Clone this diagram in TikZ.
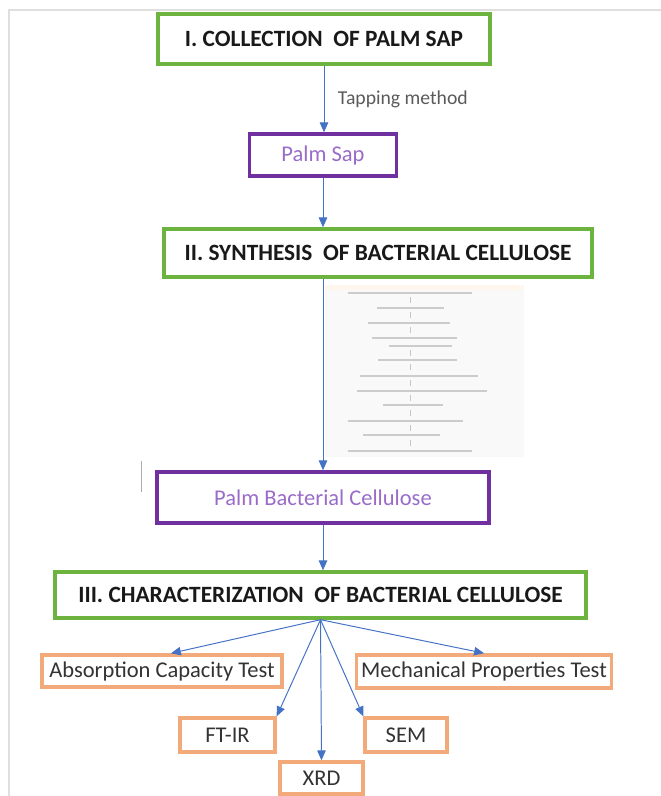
\documentclass[tikz,border=0pt]{standalone}
\usepackage{fontspec}
\setmainfont{Carlito}
\usepackage{xcolor}
\usepackage{tikz}
\usetikzlibrary{arrows.meta, positioning, calc}

\definecolor{stagegreen}{HTML}{6DB33F}
\definecolor{boxpurple}{HTML}{7030A0}
\definecolor{textpurple}{HTML}{9A6CC9}
\definecolor{testorange}{HTML}{F2AA7A}
\definecolor{flowblue}{HTML}{4472C4}
\definecolor{labelgray}{HTML}{5A5A5A}

\begin{document}
\begin{tikzpicture}[
    x=0.025cm, y=-0.025cm,
    stage/.style={rectangle, draw=stagegreen, line width=2.4pt, fill=white, align=center, text=black!90, font=\fontsize{16.6}{20}\selectfont\bfseries},
    product/.style={rectangle, draw=boxpurple, line width=2.4pt, fill=white, align=center, text=textpurple, font=\fontsize{16}{19}\selectfont},
    test/.style={rectangle, draw=testorange, line width=2.4pt, fill=white, align=center, text=black!80, font=\fontsize{16}{19}\selectfont},
    arrow/.style={-{Triangle[length=7pt, width=6pt]}, flowblue, line width=0.7pt},
    lbl/.style={text=labelgray, font=\fontsize{14}{17}\selectfont}
]
\useasboundingbox (0,0) rectangle (661,796);

% page frame
\draw[gray!25, line width=1.2pt] (661,10) -- (9,10) -- (9,796);

% I. collection
\node[stage, minimum width=8.3cm, minimum height=1.25cm] (collect) at (324,39) {I. COLLECTION\ \ OF PALM SAP};
\node[product, minimum width=3.675cm, minimum height=1.05cm] (sap) at (323,155) {Palm Sap};

% II. synthesis
\node[stage, minimum width=10.7cm, minimum height=1.2cm] (synth) at (378,253) {II. SYNTHESIS\ \ OF BACTERIAL CELLULOSE};

% inserted synthesis steps (picture, text not legible)
\fill[gray!5] (325,285) rectangle (524,457);
\fill[orange!7] (325,285) rectangle (524,290);
\foreach \yy/\xa/\xb in {293/348/472, 308/377/444, 323/368/450, 338/372/457, 346/389/452, 360/378/457, 376/360/478, 391/357/487, 405/383/443, 421/348/463, 435/363/440, 451/348/472}
    \draw[gray!40, line width=1.3pt] (\xa,\yy) -- (\xb,\yy);
\foreach \yy in {300, 315, 330, 353, 367, 383, 398, 413, 428, 443}
    \draw[gray!45, line width=0.6pt] (410,\yy-3) -- (410,\yy+3);

\node[product, minimum width=8.3cm, minimum height=1.275cm] (pbc) at (323,497.5) {Palm Bacterial Cellulose};
\draw[gray!65, line width=0.6pt] (141,461) -- (141,492);

% III. characterization
\node[stage, minimum width=13.275cm, minimum height=1.15cm] (charac) at (320.5,595) {III. CHARACTERIZATION\ \ OF BACTERIAL CELLULOSE};

% tests
\node[test, minimum width=6cm, minimum height=0.8cm] (absorb) at (162,671) {Absorption Capacity Test};
\node[test, minimum width=6.3cm, minimum height=0.83cm] (mech) at (484,671.5) {Mechanical Properties Test};
\node[test, minimum width=2.375cm, minimum height=0.85cm] (ftir) at (227.5,735) {FT-IR};
\node[test, minimum width=2.05cm, minimum height=0.85cm] (sem) at (406,735) {SEM};
\node[test, minimum width=2.075cm, minimum height=0.8cm] (xrd) at (321.5,778) {XRD};

% flow
\draw[arrow] (collect.south) -- (collect.south |- sap.north) node[midway, right=0.22cm, lbl] {Tapping method};
\draw[arrow] (sap.south) -- (sap.south |- synth.north);
\draw[arrow] (synth.south -| pbc.north) -- (pbc.north);
\draw[arrow] (pbc.south) -- (pbc.south |- charac.north);

\draw[arrow] (charac.south) -- ($(absorb.north)+(9,0)$);
\draw[arrow] (charac.south) -- (mech.north);
\draw[arrow] (charac.south) -- (ftir.north east);
\draw[arrow] (charac.south) -- (sem.north west);
\draw[arrow] (charac.south) -- (xrd.north);

\end{tikzpicture}
\end{document}
